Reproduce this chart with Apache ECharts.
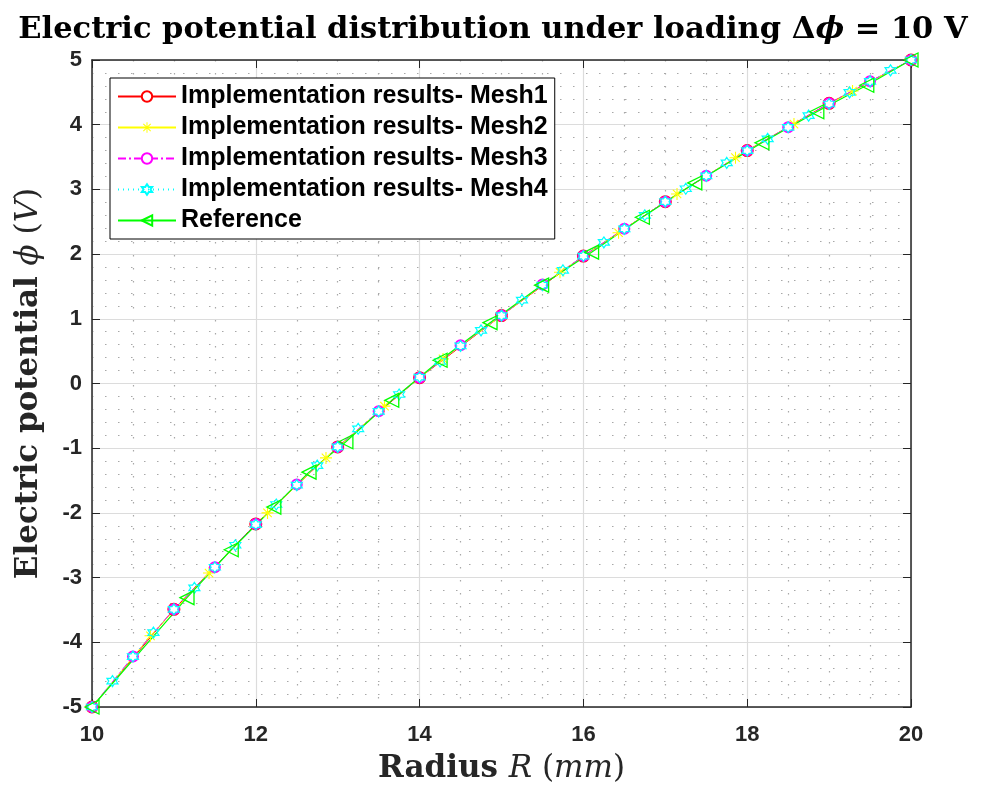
<!DOCTYPE html>
<html><head><meta charset="utf-8">
<script src="https://cdn.jsdelivr.net/npm/echarts@6/dist/echarts.min.js"></script>
<style>html,body{margin:0;padding:0;background:#fff}#c{width:986px;height:791px}</style>
</head><body><div id="c"></div>
<script>
// ---- data ----
const mesh1X = [10, 11, 12, 13, 14, 15, 16, 17, 18, 19, 20];
const mesh1Y = [-5, -3.49, -2.17, -0.98, 0.09, 1.05, 1.97, 2.81, 3.60, 4.33, 5];

const mesh2X = [10, 10.714, 11.429, 12.143, 12.857, 13.571, 14.286, 15.0, 15.714, 16.429, 17.143, 17.857, 18.571, 19.286, 20];
const mesh2Y = [-5, -3.90, -2.93, -2.00, -1.15, -0.35, 0.38, 1.05, 1.72, 2.33, 2.93, 3.49, 4.01, 4.52, 5];

const mesh3X = [10, 10.5, 11, 11.5, 12, 12.5, 13, 13.5, 14, 14.5, 15, 15.5, 16, 16.5, 17, 17.5, 18, 18.5, 19, 19.5, 20];
const mesh3Y = [-5, -4.22, -3.49, -2.84, -2.17, -1.56, -0.98, -0.43, 0.09, 0.59, 1.05, 1.53, 1.97, 2.39, 2.81, 3.21, 3.60, 3.96, 4.33, 4.67, 5];

const mesh4X = [10, 10.25, 10.5, 10.75, 11, 11.25, 11.5, 11.75, 12, 12.25, 12.5, 12.75, 13, 13.25, 13.5, 13.75, 14, 14.25, 14.5, 14.75, 15, 15.25, 15.5, 15.75, 16, 16.25, 16.5, 16.75, 17, 17.25, 17.5, 17.75, 18, 18.25, 18.5, 18.75, 19, 19.25, 19.5, 19.75, 20];
const mesh4Y = [-5, -4.60, -4.22, -3.85, -3.49, -3.16, -2.84, -2.50, -2.18, -1.87, -1.57, -1.27, -0.98, -0.70, -0.43, -0.17, 0.10, 0.34, 0.58, 0.82, 1.05, 1.29, 1.52, 1.75, 1.97, 2.18, 2.39, 2.60, 2.81, 3.01, 3.21, 3.41, 3.60, 3.78, 3.96, 4.14, 4.32, 4.50, 4.67, 4.84, 5];

const refX = [10, 11.16, 11.70, 12.22, 12.65, 13.10, 13.66, 14.25, 14.86, 15.49, 16.10, 16.72, 17.36, 18.18, 18.85, 19.46, 20];
const refY = [-5, -3.31, -2.57, -1.91, -1.37, -0.90, -0.26, 0.36, 0.94, 1.52, 2.03, 2.57, 3.10, 3.72, 4.20, 4.61, 5];

const seriesNames = ['Implementation results- Mesh1', 'Implementation results- Mesh2', 'Implementation results- Mesh3', 'Implementation results- Mesh4', 'Reference'];
const xTicks = [10, 12, 14, 16, 18, 20];
const yTicks = [-5, -4, -3, -2, -1, 0, 1, 2, 3, 4, 5];

function zip(xs, ys) { return xs.map((x, i) => [x, ys[i]]); }

const asterisk = 'path://M-0.9,-10L0.9,-10L0.9,10L-0.9,10Z M-10,-0.9L10,-0.9L10,0.9L-10,0.9Z M-7.7,-6.4L-6.4,-7.7L7.7,6.4L6.4,7.7Z M6.4,-7.7L7.7,-6.4L-6.4,7.7L-7.7,6.4Z';
const hexagram = 'path://M0,-10L2.9,-5L8.66,-5L5.8,0L8.66,5L2.9,5L0,10L-2.9,5L-8.66,5L-5.8,0L-8.66,-5L-2.9,-5Z';
const leftTri = 'path://M-9,0L7,-9L7,9Z';

const AX = '#262626';
const tickFont = { fontFamily: 'Liberation Sans', fontWeight: 'bold', fontSize: 22, color: AX };
const NAME_FS = 31;
function nameRich() {
  return { rich: {
    b: { fontFamily: 'DejaVu Serif', fontWeight: 'bold', fontSize: NAME_FS, color: AX },
    i: { fontFamily: 'DejaVu Serif', fontStyle: 'italic', fontSize: NAME_FS, color: AX },
    n: { fontFamily: 'DejaVu Serif', fontSize: NAME_FS, color: AX } } };
}
const minorGrid = { show: true, lineStyle: { color: '#a8a8a8', width: 1.2, type: [1.5, 11.5] } };

const chart = echarts.init(document.getElementById('c'), null, { renderer: 'canvas' });
chart.setOption({
  backgroundColor: '#fff',
  animation: false,
  title: {
    text: '{b|Electric potential distribution under loading Δ}{i|ϕ}{b| = 10 V}',
    left: 'center', top: 10,
    textStyle: {
      rich: {
        b: { fontFamily: 'DejaVu Serif', fontWeight: 'bold', fontSize: 30.5, color: '#000' },
        i: { fontFamily: 'DejaVu Serif', fontStyle: 'italic', fontSize: 30.5, color: '#000' }
      }
    }
  },
  grid: { left: 92, right: 75, top: 60, bottom: 84, containLabel: false },
  legend: {
    orient: 'vertical', left: 110, top: 78,
    data: seriesNames,
    backgroundColor: '#fff', borderColor: '#000', borderWidth: 1,
    padding: [6, 7, 6, 7],
    itemWidth: 58, itemHeight: 13, itemGap: 6,
    textStyle: { fontFamily: 'Liberation Sans', fontWeight: 'bold', fontSize: 25, color: '#000' }
  },
  xAxis: [{
    type: 'value', min: 10, max: 20, interval: 2,
    name: '{b|Radius }{i|R}{n| (}{i|mm}{n|)}', nameLocation: 'middle', nameGap: 46,
    nameTextStyle: nameRich(),
    axisLine: { show: true, onZero: false, lineStyle: { color: AX, width: 1.5 } },
    axisTick: { show: true, inside: true, length: 8, lineStyle: { color: AX } },
    axisLabel: Object.assign({ margin: 17 }, tickFont),
    splitLine: { show: true, lineStyle: { color: '#dcdcdc', width: 1.2 } },
    minorTick: { show: false, splitNumber: 4 },
    minorSplitLine: minorGrid
  }, {
    type: 'value', min: 10, max: 20, interval: 2, position: 'top',
    axisLine: { show: true, onZero: false, lineStyle: { color: AX, width: 1.5 } },
    axisTick: { show: true, inside: true, length: 8, lineStyle: { color: AX } },
    axisLabel: { show: false }, splitLine: { show: false }
  }],
  yAxis: [{
    type: 'value', min: -5, max: 5, interval: 1,
    name: '{b|Electric potential }{i|ϕ}{n| (}{i|V}{n|)}', nameLocation: 'middle', nameGap: 48,
    nameTextStyle: nameRich(),
    axisLine: { show: true, onZero: false, lineStyle: { color: AX, width: 1.5 } },
    axisTick: { show: true, inside: true, length: 8, lineStyle: { color: AX } },
    axisLabel: Object.assign({ margin: 10 }, tickFont),
    splitLine: { show: true, lineStyle: { color: '#dcdcdc', width: 1.2 } },
    minorTick: { show: false, splitNumber: 5 },
    minorSplitLine: minorGrid
  }, {
    type: 'value', min: -5, max: 5, interval: 1, position: 'right',
    axisLine: { show: true, onZero: false, lineStyle: { color: AX, width: 1.5 } },
    axisTick: { show: true, inside: true, length: 8, lineStyle: { color: AX } },
    axisLabel: { show: false }, splitLine: { show: false }
  }],
  series: [
    { name: seriesNames[0], type: 'line', data: zip(mesh1X, mesh1Y),
      symbol: 'emptyCircle', symbolSize: 11,
      lineStyle: { color: '#ff0000', width: 1 },
      itemStyle: { color: '#ff0000', borderColor: '#ff0000', borderWidth: 1.3 } },
    { name: seriesNames[1], type: 'line', data: zip(mesh2X, mesh2Y),
      symbol: asterisk, symbolSize: 12,
      lineStyle: { color: '#ffff00', width: 1 },
      itemStyle: { color: '#ffff00', borderColor: '#ffff00', borderWidth: 0 } },
    { name: seriesNames[2], type: 'line', data: zip(mesh3X, mesh3Y),
      symbol: 'emptyCircle', symbolSize: 10,
      lineStyle: { color: '#ff00ff', width: 1, type: [8, 3, 2, 3] },
      itemStyle: { color: '#ff00ff', borderColor: '#ff00ff', borderWidth: 1.3 } },
    { name: seriesNames[3], type: 'line', data: zip(mesh4X, mesh4Y),
      symbol: hexagram, symbolSize: 11,
      lineStyle: { color: '#00ffff', width: 1, type: [1, 4] },
      itemStyle: { color: 'rgba(255,255,255,0)', borderColor: '#00ffff', borderWidth: 1.2 } },
    { name: seriesNames[4], type: 'line', data: zip(refX, refY),
      symbol: leftTri, symbolSize: 14,
      lineStyle: { color: '#00ff00', width: 1.2 },
      itemStyle: { color: 'rgba(255,255,255,0)', borderColor: '#00ff00', borderWidth: 1.3 } }
  ]
});
</script></body></html>
